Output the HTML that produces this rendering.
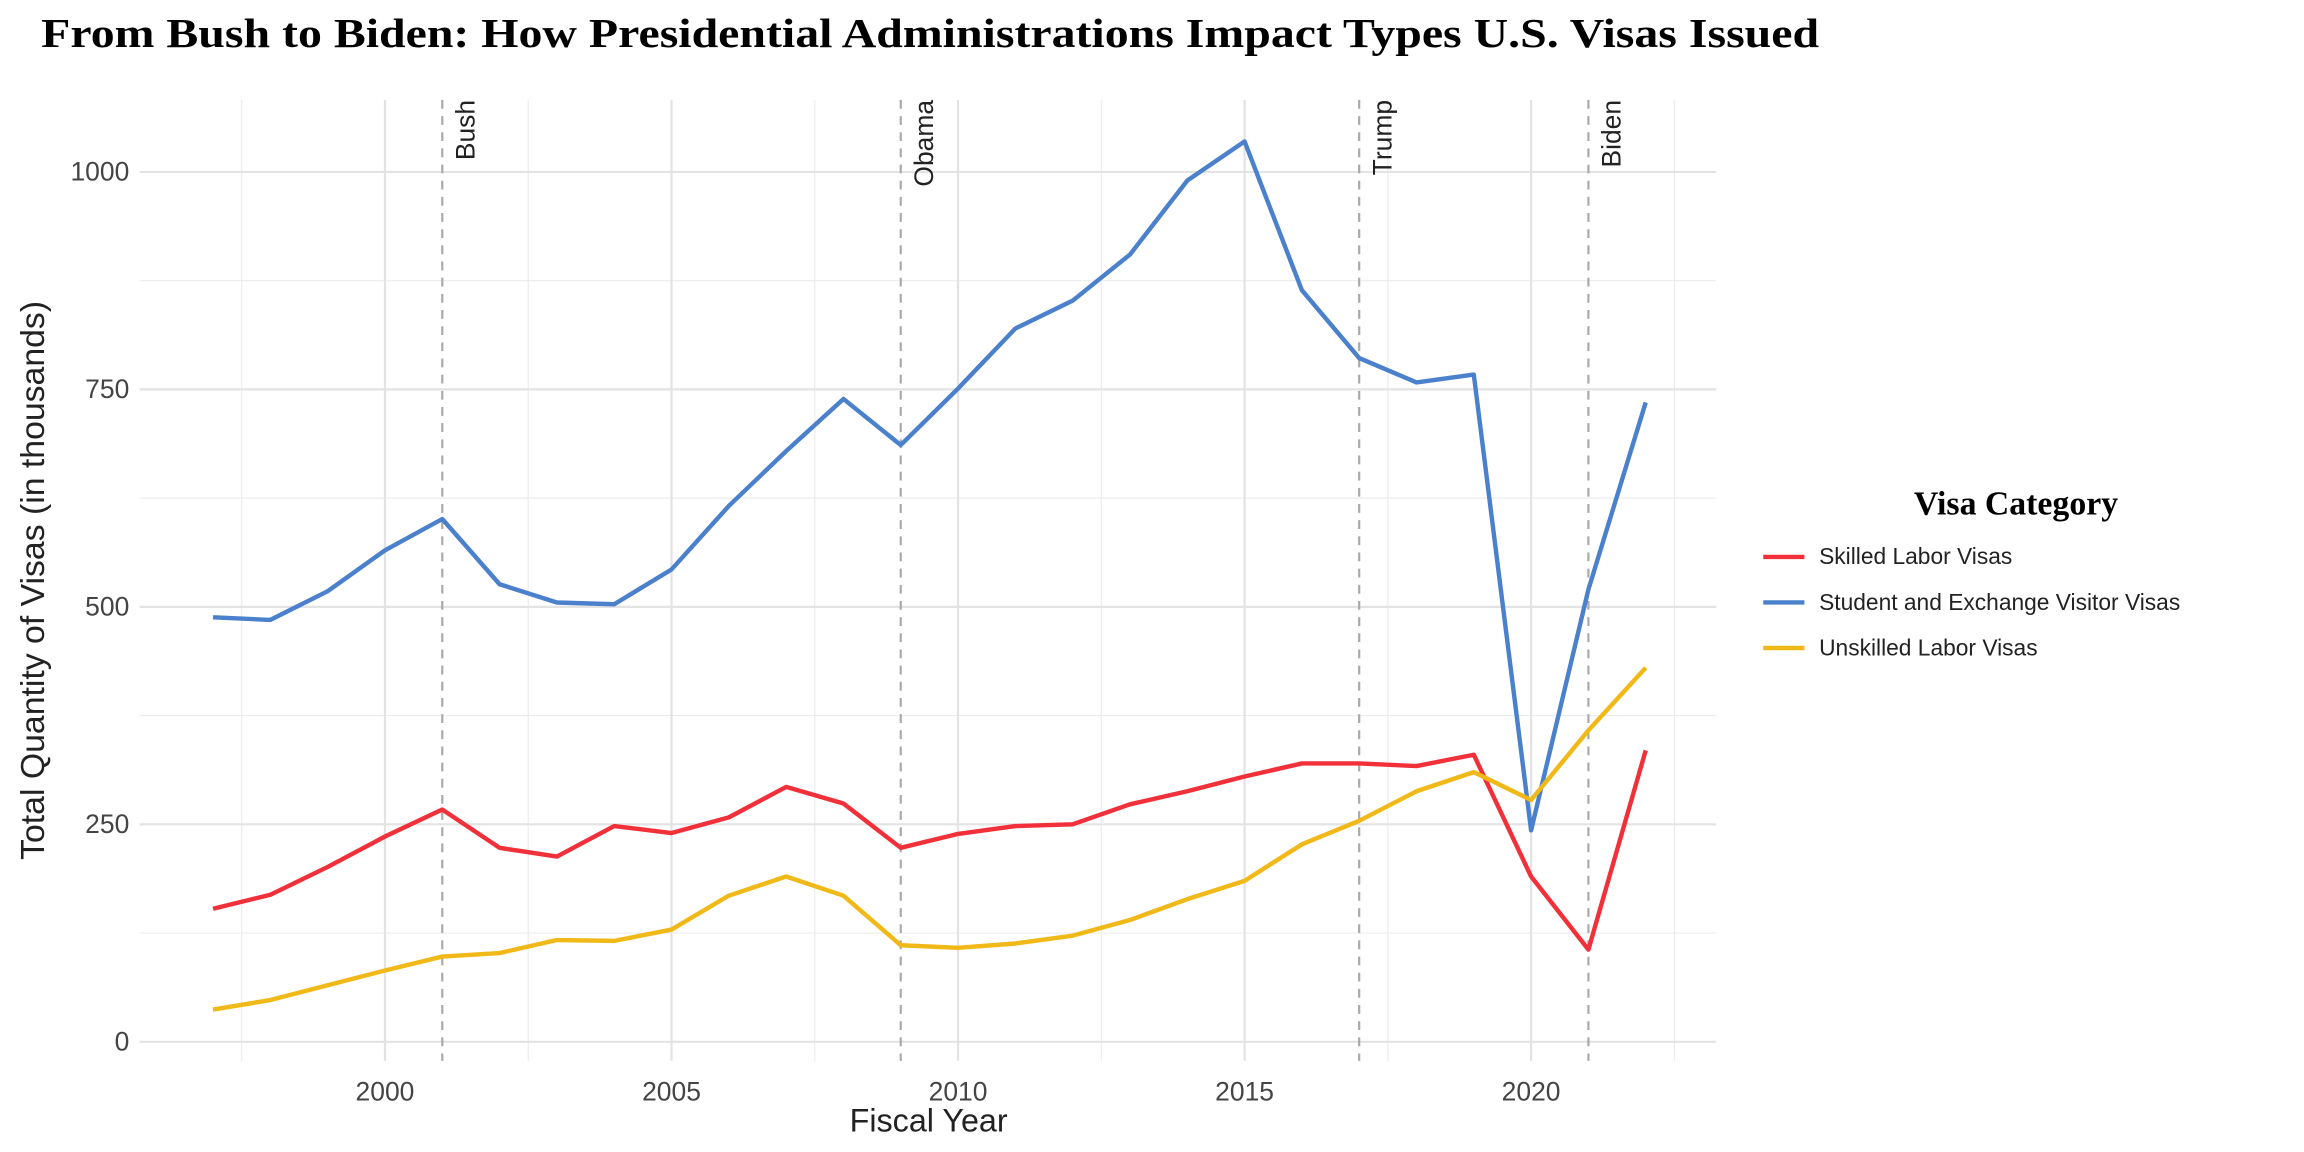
<!DOCTYPE html>
<html><head><meta charset="utf-8"><style>
html,body{margin:0;padding:0;background:#fff;}
svg{display:block;}
text{font-family:"Liberation Sans",sans-serif;}
</style></head><body>
<svg id="chart" width="2304" height="1152" viewBox="0 0 1568 784" xmlns="http://www.w3.org/2000/svg">
<rect width="1568" height="784" fill="#fff"/>
<text x="28" y="32" font-weight="bold" font-size="28" textLength="1210" lengthAdjust="spacingAndGlyphs" style="font-family:'Liberation Serif',serif">From Bush to Biden: How Presidential Administrations Impact Types U.S. Visas Issued</text>
<g id="grid"></g>
<g id="vlines"></g>
<g id="series"></g>
<g id="axes"></g>
<text x="632" y="770" font-size="22" text-anchor="middle" fill="#222">Fiscal Year</text>
<text transform="translate(30,395) rotate(-90)" font-size="23" text-anchor="middle" fill="#222">Total Quantity of Visas (in thousands)</text>
<g>
<text x="1372" y="350" font-size="23" font-weight="bold" text-anchor="middle" style="font-family:'Liberation Serif',serif">Visa Category</text>
<line x1="1200" x2="1228" y1="379" y2="379" stroke="#f2303a" stroke-width="3"/>
<text x="1238" y="384" font-size="15.5" fill="#222">Skilled Labor Visas</text>
<line x1="1200" x2="1228" y1="410" y2="410" stroke="#4a80cc" stroke-width="3"/>
<text x="1238" y="415" font-size="15.5" fill="#222">Student and Exchange Visitor Visas</text>
<line x1="1200" x2="1228" y1="441" y2="441" stroke="#f0b918" stroke-width="3"/>
<text x="1238" y="446" font-size="15.5" fill="#222">Unskilled Labor Visas</text>
</g>
</svg>
<script>
const years=[1997,1998,1999,2000,2001,2002,2003,2004,2005,2006,2007,2008,2009,2010,2011,2012,2013,2014,2015,2016,2017,2018,2019,2020,2021,2022];
const student=[488,485,518,565,601,526,505,503,543,616,679,739,686,751,820,852,905,990,1035,864,786,758,767,243,520,735];
const skilled=[153,169,201,236,267,223,213,248,240,258,293,274,223,239,248,250,273,288,305,320,320,317,330,190,106,335];
const unskilled=[37,48,65,82,98,102,117,116,129,168,190,168,111,108,113,122,140,164,185,227,254,288,310,278,358,430];
const xTicks=[2000,2005,2010,2015,2020];
const yTicks=[0,250,500,750,1000];
const presYears=[2001,2009,2017,2021];
const presNames=["Bush","Obama","Trump","Biden"];
const NS="http://www.w3.org/2000/svg";
const X0=95,X1=1168,YT=68,YB=722;
const xs=y=>262+(y-2000)*39;
const ys=v=>709-v*148/250;
function mk(tag,attrs,parent){const e=document.createElementNS(NS,tag);for(const k in attrs)e.setAttribute(k,attrs[k]);parent.appendChild(e);return e;}
const grid=document.getElementById('grid');
for(let v=125;v<1100;v+=250){const l=mk('line',{x1:X0,x2:X1,y1:ys(v),y2:ys(v),stroke:'#ececec','stroke-width':0.8},grid);

}
for(let yr=1997.5;yr<2023.4;yr+=5){const l=mk('line',{x1:xs(yr),x2:xs(yr),y1:YT,y2:YB,stroke:'#ececec','stroke-width':0.8},grid);

}
const axes=document.getElementById('axes');
yTicks.forEach(v=>{const l=mk('line',{x1:X0,x2:X1,y1:ys(v),y2:ys(v),stroke:'#e3e3e3','stroke-width':1.5},grid);


const t=mk('text',{x:88,y:ys(v)+6,'text-anchor':'end','font-size':18,fill:'#444'},axes);t.textContent=v;

});
xTicks.forEach(v=>{const l=mk('line',{x1:xs(v),x2:xs(v),y1:YT,y2:YB,stroke:'#e3e3e3','stroke-width':1.5},grid);


const t=mk('text',{x:xs(v),y:749,'text-anchor':'middle','font-size':18,fill:'#444'},axes);t.textContent=v;

});
const vl=document.getElementById('vlines');
presYears.forEach((yr,i)=>{const l=mk('line',{x1:xs(yr),x2:xs(yr),y1:YT,y2:YB,stroke:'#aaa','stroke-width':1.5,'stroke-dasharray':'6,5'},vl);


const t=mk('text',{transform:`translate(${xs(yr)+22},68) rotate(-90)`,'text-anchor':'end','font-size':18,fill:'#222'},vl);t.textContent=presNames[i];

});
const ser=document.getElementById('series');
[[skilled,'#f2303a','skilled-labor-line'],[student,'#4a80cc','student-visa-line'],[unskilled,'#f0b918','unskilled-labor-line']].forEach(([d,c,n])=>{
const p=mk('polyline',{points:d.map((v,i)=>xs(years[i])+','+ys(v)).join(' '),fill:'none',stroke:c,'stroke-width':3,'stroke-linejoin':'round'},ser);

});
</script>
</body></html>
